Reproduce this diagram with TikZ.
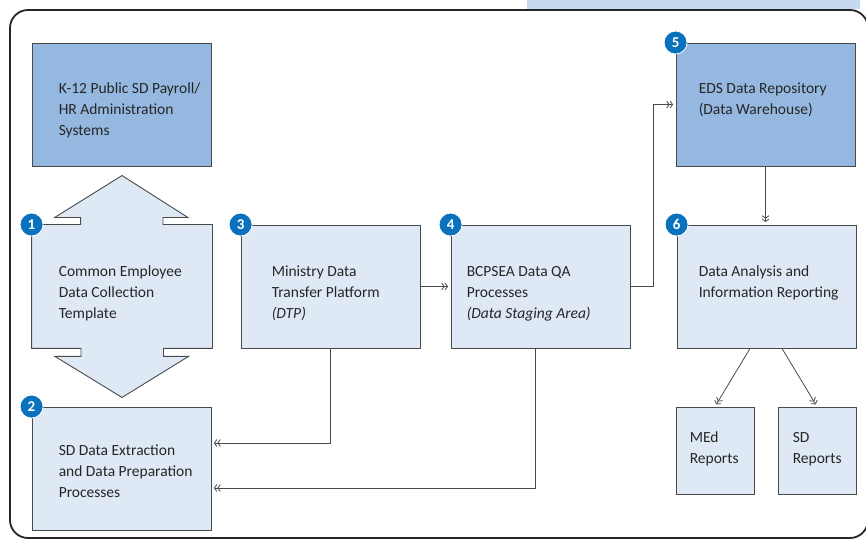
\documentclass[tikz,border=0pt]{standalone}
\usepackage{fontspec}
\setmainfont{Carlito}
\usetikzlibrary{
	arrows.meta,
	positioning,
	calc
}
\usepackage{xcolor}
\definecolor{boxdark}{HTML}{95B8E0}
\definecolor{boxlight}{HTML}{DFE9F6}
\definecolor{tabblue}{HTML}{C6D9EF}
\definecolor{numblue}{HTML}{0A72BC}
\definecolor{edge}{HTML}{4A4A4A}

\begin{document}
\begin{tikzpicture}[
		x=1pt,y=1pt,
		stage/.style={
			draw=edge,
			line width=0.9pt,
			fill=boxlight,
			minimum width=179pt,
			minimum height=123pt,
			inner sep=0pt
		},
		source/.style={
			stage,
			fill=boxdark
		},
		small/.style={
			stage,
			minimum width=78pt,
			minimum height=87pt
		},
		label/.style={
			anchor=north west,
			inner sep=0pt,
			align=left,
			text=black!85,
			font=\fontsize{15.5}{21}\selectfont
		},
		badge/.style={
			circle,
			fill=numblue,
			draw=white,
			line width=0.8pt,
			minimum size=23pt,
			inner sep=0pt,
			text=white,
			font=\bfseries\fontsize{15}{15}\selectfont
		},
		link/.style={
			-{Straight Barb[length=2.5pt,width=7pt]Straight Barb[length=2.5pt,width=7pt]},
			draw=edge,
			line width=0.8pt,
			shorten >=2.5pt
		}
		]
		\useasboundingbox (0,0) rectangle (866,540);
		
		% Frame
		\fill[tabblue] (527,529) -- (527,540) -- (860,540) -- (860,531) -- cycle;
		\draw[line width=1.8pt, draw=black!85, rounded corners=18pt] (10,2) rectangle (868,530);
		
		% Sources
		\node[source] (hr) at (121.5,435.5) {};
		\node[label] at ([shift={(27,-36)}]hr.north west) {\strut K-12 Public SD Payroll/\\HR Administration\\Systems};
		
		% Template (double arrow)
		\node[stage, draw=none, fill=none, minimum width=180pt] (collect) at (122,253.5) {};
		\draw[draw=edge, line width=0.9pt, fill=boxlight]
		(collect.north west) -- ++(49,0) -- ++(0,7) -- ++(-26,0)
		-- ($(collect.north)+(0,49)$) -- ++(66,-42) -- ++(-25,0) -- ++(0,-7)
		-- (collect.north east) -- (collect.south east) -- ++(-49,0) -- ++(0,-8) -- ++(25,0)
		-- ($(collect.south)+(0,-49)$) -- ++(-67,41) -- ++(26,0) -- ++(0,8)
		-- (collect.south west) -- cycle;
		\node[label] at ([shift={(27,-37)}]collect.north west) {\strut Common Employee\\Data Collection\\Template};
		
		% Extraction
		\node[stage] (extract) at (121.5,71.5) {};
		\node[label] at ([shift={(27,-34)}]extract.north west) {\strut SD Data Extraction\\and Data Preparation\\Processes};
		
		% Transfer and QA
		\node[stage] (dtp) at (330.5,253.5) {};
		\node[label] at ([shift={(31,-37)}]dtp.north west) {\strut Ministry Data\\Transfer Platform\\\textit{(DTP)}};
		
		\node[stage] (qa) at (540.5,253.5) {};
		\node[label] at ([shift={(16,-37)}]qa.north west) {\strut BCPSEA Data QA\\Processes\\\textit{(Data Staging Area)}};
		
		% Repository and reporting
		\node[source] (eds) at (765.5,435.5) {};
		\node[label] at ([shift={(23,-36)}]eds.north west) {\strut EDS Data Repository\\(Data Warehouse)};
		
		\node[stage] (report) at (766.5,253.5) {};
		\node[label] at ([shift={(22,-37)}]report.north west) {\strut Data Analysis and\\Information Reporting};
		
		\node[small] (med) at (715,89.5) {};
		\node[label] at ([shift={(14,-21)}]med.north west) {\strut MEd\\Reports};
		
		\node[small] (sdrep) at (817,89.5) {};
		\node[label] at ([shift={(15,-21)}]sdrep.north west) {\strut SD\\Reports};
		
		% Connections
		\draw[link] (dtp.east) -- (qa.west);
		\draw[link] (qa.east) -- ++(23,0) |- (eds.west);
		\draw[link] (eds.south) -- (eds.south |- report.north);
		\draw[link] (dtp.south) |- ([yshift=25.5]extract.east);
		\draw[link] ([xshift=-5.5]qa.south) |- ([yshift=-19.5]extract.east);
		\draw[link] ([xshift=-16.5]report.south) -- (med.north);
		\draw[link] ([xshift=15.5]report.south) -- (sdrep.north);
		
		% Numbers
		\node[badge] (n1) at (collect.north west) {1};
		\node[badge] (n2) at (extract.north west) {2};
		\node[badge] (n3) at (dtp.north west) {3};
		\node[badge] (n4) at (qa.north west) {4};
		\node[badge] (n5) at (eds.north west) {5};
		\node[badge] (n6) at (report.north west) {6};
		
	\end{tikzpicture}
\end{document}
